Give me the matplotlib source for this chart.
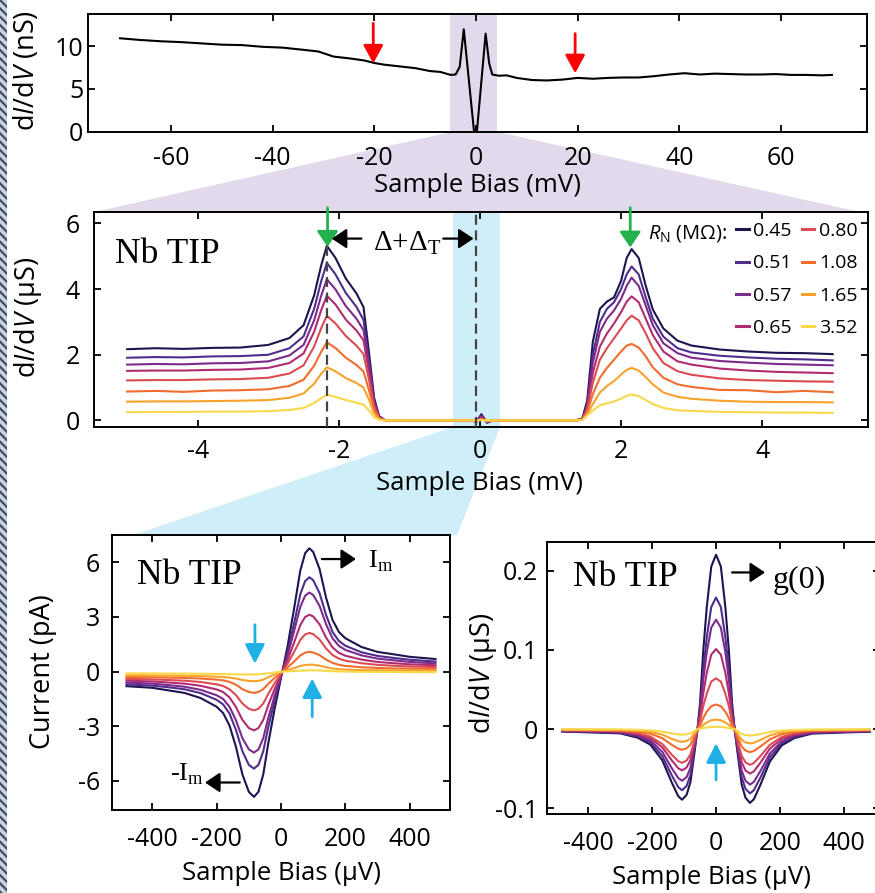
import matplotlib
matplotlib.use("Agg")
import matplotlib.pyplot as plt
from matplotlib.patches import Polygon, Rectangle

plt.rcParams["font.family"] = ["Open Sans", "DejaVu Sans"]
plt.rcParams["mathtext.fontset"] = "custom"
plt.rcParams["mathtext.rm"] = "Liberation Serif"
plt.rcParams["mathtext.it"] = "Open Sans:italic"
plt.rcParams["mathtext.sf"] = "Open Sans"
plt.rcParams["axes.unicode_minus"] = False
plt.rcParams["hatch.linewidth"] = 1.6

W, H = 875, 893

# ---------------- data ----------------
# top panel: wide-range dI/dV (nS) vs bias (mV)
wide_bias = [-70, -66, -62, -58, -54, -50, -46, -42, -38, -34, -31, -28, -25, -22, -20, -18,
             -15, -12, -9, -7, -5, -4, -3.2, -2.4, -0.4, 0.2, 1.9, 2.6, 3.2, 4.5, 6, 8, 11,
             14, 17, 20, 23, 26, 29, 32, 35, 38, 41, 44, 47, 50, 53, 56, 59, 62, 65, 68, 70]
wide_didv = [10.95, 10.75, 10.6, 10.5, 10.35, 10.2, 10.15, 9.95, 9.85, 9.6, 9.4, 8.8, 8.6, 8.35,
             8.05, 7.85, 7.65, 7.45, 7.1, 7.0, 6.65, 6.7, 7.6, 12.0, 0.1, 0.1, 11.5, 8.0, 6.7,
             6.55, 6.6, 6.3, 6.05, 6.0, 6.1, 6.3, 6.2, 6.3, 6.35, 6.35, 6.5, 6.7, 6.85, 6.7,
             6.8, 6.75, 6.7, 6.7, 6.75, 6.65, 6.65, 6.6, 6.65]

rn_labels = ["0.45", "0.51", "0.57", "0.65", "0.80", "1.08", "1.65", "3.52"]
colors = ["#1e1450", "#4f2d8c", "#7c2a8c", "#b02c72", "#dc4b53", "#f16c2e", "#f8a22c", "#f9d84a"]

# middle panel: gap dI/dV (uS) vs bias (mV)
gap_bias = [-5.0, -4.6, -4.2, -3.8, -3.4, -3.0, -2.7, -2.5, -2.35, -2.25, -2.17, -2.05, -1.9,
            -1.75, -1.65, -1.57, -1.5, -1.43, -1.35, -0.7, -0.12, -0.05, 0.02, 0.1, 0.18, 0.7,
            1.35, 1.45, 1.52, 1.6, 1.7, 1.8, 1.9, 2.0, 2.08, 2.15, 2.25, 2.35, 2.45, 2.6, 2.8,
            3.0, 3.4, 3.8, 4.2, 4.6, 5.0]
gap_didv = [
    [2.17, 2.20, 2.18, 2.21, 2.22, 2.30, 2.51, 2.90, 3.81, 4.72, 5.32, 4.96, 4.32, 3.87, 3.45, 2.02, 0.69, 0.13, 0.01,
     0, 0, -0.05, 0.19, -0.07, 0, 0,
     0.0, 0.05, 0.6, 2.4, 3.4, 3.62, 3.75, 4.25, 4.95, 5.22, 4.95, 4.1, 3.38, 2.8, 2.43, 2.28, 2.16, 2.1, 2.06, 2.05, 2.02],
    [1.91, 1.93, 1.92, 1.95, 1.96, 2.0, 2.2, 2.56, 3.4, 4.24, 4.8, 4.46, 3.88, 3.46, 3.06, 1.82, 0.62, 0.12, 0.01,
     0, 0, -0.04, 0.15, -0.06, 0, 0,
     0.0, 0.04, 0.5, 2.0, 3.0, 3.4, 3.6, 4.0, 4.45, 4.69, 4.45, 3.75, 3.1, 2.55, 2.2, 2.07, 1.97, 1.92, 1.88, 1.86, 1.83],
    [1.70, 1.72, 1.71, 1.74, 1.75, 1.80, 1.98, 2.30, 3.05, 3.80, 4.30, 4.0, 3.48, 3.10, 2.75, 1.63, 0.56, 0.11, 0.01,
     0, 0, -0.03, 0.12, -0.05, 0, 0,
     0.0, 0.04, 0.45, 1.75, 2.7, 3.1, 3.35, 3.7, 4.1, 4.35, 4.1, 3.5, 2.9, 2.35, 2.05, 1.91, 1.81, 1.76, 1.72, 1.7, 1.68],
    [1.51, 1.52, 1.52, 1.54, 1.55, 1.60, 1.75, 2.04, 2.70, 3.36, 3.80, 3.54, 3.07, 2.74, 2.44, 1.44, 0.49, 0.10, 0.01,
     0, 0, -0.03, 0.09, -0.04, 0, 0,
     0.0, 0.03, 0.38, 1.45, 2.25, 2.65, 2.95, 3.3, 3.62, 3.78, 3.6, 3.1, 2.6, 2.1, 1.8, 1.70, 1.58, 1.52, 1.48, 1.46, 1.44],
    [1.22, 1.23, 1.23, 1.25, 1.26, 1.30, 1.43, 1.68, 2.25, 2.81, 3.19, 2.96, 2.57, 2.28, 2.02, 1.21, 0.41, 0.08, 0.0,
     0, 0, -0.02, 0.06, -0.03, 0, 0,
     0.0, 0.03, 0.32, 1.15, 1.85, 2.2, 2.5, 2.8, 3.05, 3.19, 3.05, 2.65, 2.2, 1.75, 1.5, 1.39, 1.28, 1.23, 1.21, 1.19, 1.18],
    [0.88, 0.90, 0.87, 0.91, 0.92, 0.95, 1.05, 1.24, 1.67, 2.09, 2.38, 2.21, 1.91, 1.69, 1.49, 0.90, 0.31, 0.06, 0.0,
     0, 0, -0.01, 0.04, -0.02, 0, 0,
     0.0, 0.02, 0.25, 0.8, 1.3, 1.6, 1.85, 2.1, 2.28, 2.33, 2.22, 1.95, 1.62, 1.3, 1.1, 1.02, 0.93, 0.92, 0.86, 0.9, 0.86],
    [0.57, 0.58, 0.58, 0.59, 0.60, 0.62, 0.69, 0.82, 1.12, 1.42, 1.62, 1.50, 1.29, 1.14, 1.0, 0.62, 0.21, 0.04, 0.0,
     0, 0, -0.01, 0.02, -0.01, 0, 0,
     0.0, 0.02, 0.18, 0.5, 0.85, 1.05, 1.2, 1.4, 1.54, 1.6, 1.52, 1.32, 1.1, 0.85, 0.72, 0.66, 0.6, 0.57, 0.56, 0.56, 0.55],
    [0.25, 0.26, 0.26, 0.27, 0.27, 0.28, 0.32, 0.38, 0.53, 0.68, 0.78, 0.72, 0.62, 0.54, 0.48, 0.30, 0.10, 0.02, 0.0,
     0, 0, 0, 0.01, 0, 0, 0,
     0.0, 0.01, 0.15, 0.3, 0.46, 0.52, 0.58, 0.66, 0.75, 0.79, 0.74, 0.62, 0.5, 0.38, 0.31, 0.29, 0.26, 0.25, 0.24, 0.24, 0.23],
]

# bottom-left: current (pA) vs bias (uV)
iv_bias = [-480, -400, -350, -300, -250, -200, -180, -160, -140, -120, -100, -84, -70, -55, -40, -20, 0,
           20, 40, 60, 75, 88, 100, 120, 140, 160, 180, 200, 250, 300, 350, 400, 480]
iv_current = [
    [-0.80, -0.89, -1.03, -1.17, -1.45, -1.93, -2.27, -2.96, -4.13, -5.64, -6.6, -6.88, -6.6, -5.64, -3.99, -2.06, -0.34,
     1.35, 3.39, 5.55, 6.5, 6.77, 6.57, 5.62, 4.06, 2.84, 2.17, 1.83, 1.35, 1.08, 0.95, 0.81, 0.69],
    [-0.70, -0.77, -0.86, -0.97, -1.18, -1.55, -1.8, -2.3, -3.2, -4.37, -5.12, -5.33, -5.12, -4.37, -3.09, -1.6, -0.27,
     1.04, 2.59, 4.25, 4.97, 5.18, 5.02, 4.3, 3.11, 2.18, 1.68, 1.42, 1.06, 0.86, 0.75, 0.65, 0.55],
    [-0.60, -0.66, -0.74, -0.83, -1.0, -1.3, -1.5, -1.93, -2.67, -3.65, -4.27, -4.45, -4.27, -3.65, -2.58, -1.34, -0.22,
     0.87, 2.17, 3.56, 4.17, 4.34, 4.21, 3.6, 2.6, 1.83, 1.41, 1.19, 0.89, 0.71, 0.62, 0.53, 0.45],
    [-0.50, -0.54, -0.6, -0.66, -0.78, -0.98, -1.12, -1.42, -1.94, -2.65, -3.1, -3.23, -3.1, -2.65, -1.87, -0.97, -0.16,
     0.62, 1.56, 2.56, 3.0, 3.12, 3.03, 2.59, 1.87, 1.33, 1.03, 0.87, 0.66, 0.53, 0.46, 0.4, 0.35],
    [-0.40, -0.43, -0.46, -0.5, -0.57, -0.7, -0.79, -0.97, -1.29, -1.75, -2.04, -2.13, -2.04, -1.75, -1.24, -0.64, -0.11,
     0.42, 1.06, 1.74, 2.04, 2.12, 2.06, 1.76, 1.27, 0.91, 0.71, 0.6, 0.46, 0.37, 0.32, 0.28, 0.25],
    [-0.30, -0.31, -0.33, -0.35, -0.38, -0.44, -0.48, -0.56, -0.72, -0.96, -1.12, -1.17, -1.12, -0.96, -0.68, -0.35, -0.06,
     0.22, 0.54, 0.89, 1.04, 1.08, 1.05, 0.9, 0.66, 0.48, 0.37, 0.31, 0.24, 0.2, 0.17, 0.16, 0.15],
    [-0.20, -0.21, -0.22, -0.23, -0.25, -0.28, -0.3, -0.33, -0.38, -0.46, -0.51, -0.53, -0.51, -0.44, -0.31, -0.16, -0.03,
     0.08, 0.19, 0.31, 0.36, 0.38, 0.37, 0.32, 0.24, 0.17, 0.13, 0.11, 0.08, 0.07, 0.06, 0.05, 0.05],
    [-0.10, -0.10, -0.11, -0.11, -0.12, -0.13, -0.14, -0.14, -0.15, -0.16, -0.16, -0.16, -0.15, -0.13, -0.1, -0.05, -0.01,
     0.01, 0.03, 0.05, 0.06, 0.07, 0.07, 0.06, 0.04, 0.02, 0.01, 0.0, -0.01, -0.02, -0.02, -0.03, -0.03],
]

# bottom-right: dI/dV (uS) vs bias (uV)
zb_bias = [-480, -400, -300, -245, -205, -168, -138, -118, -106, -92, -80, -68, -58, -50, -40, -29, -15, 0,
           15, 29, 40, 50, 58, 68, 80, 92, 106, 118, 138, 168, 205, 245, 300, 400, 480]
zb_didv = [
    [-0.0031, -0.0040, -0.0053, -0.0107, -0.0196, -0.0392, -0.0676, -0.0846, -0.089, -0.0828, -0.0668, -0.0312, 0.0,
     0.033, 0.099, 0.154, 0.205, 0.22, 0.205, 0.154, 0.099, 0.033, 0.0,
     -0.0326, -0.0698, -0.0865, -0.093, -0.0884, -0.0707, -0.0409, -0.0205, -0.0112, -0.0056, -0.0042, -0.0033],
    [-0.0027, -0.0035, -0.0046, -0.0092, -0.0169, -0.0339, -0.0585, -0.0732, -0.077, -0.0716, -0.0578, -0.027, 0.0,
     0.025, 0.075, 0.116, 0.154, 0.166, 0.154, 0.116, 0.075, 0.025, 0.0,
     -0.0284, -0.0608, -0.0753, -0.081, -0.077, -0.0616, -0.0356, -0.0178, -0.0097, -0.0049, -0.0036, -0.0028],
    [-0.0023, -0.0029, -0.0039, -0.0078, -0.0143, -0.0286, -0.0494, -0.0618, -0.065, -0.0605, -0.0488, -0.0228, 0.0,
     0.021, 0.062, 0.097, 0.128, 0.138, 0.128, 0.097, 0.062, 0.021, 0.0,
     -0.0245, -0.0525, -0.0651, -0.070, -0.0665, -0.0532, -0.0308, -0.0154, -0.0084, -0.0042, -0.0032, -0.0025],
    [-0.0018, -0.0023, -0.0031, -0.0062, -0.0114, -0.0229, -0.0395, -0.0494, -0.052, -0.0484, -0.039, -0.0182, 0.0,
     0.015, 0.045, 0.071, 0.094, 0.101, 0.094, 0.071, 0.045, 0.015, 0.0,
     -0.0196, -0.042, -0.0521, -0.056, -0.0532, -0.0426, -0.0246, -0.0123, -0.0067, -0.0034, -0.0025, -0.002],
    [-0.0015, -0.0019, -0.0026, -0.0051, -0.0094, -0.0187, -0.0323, -0.0404, -0.0425, -0.0395, -0.0319, -0.0149, 0.0,
     0.0096, 0.029, 0.045, 0.060, 0.064, 0.060, 0.045, 0.029, 0.0096, 0.0,
     -0.0158, -0.0338, -0.0419, -0.045, -0.0428, -0.0342, -0.0198, -0.0099, -0.0054, -0.0027, -0.002, -0.0016],
    [-0.0009, -0.0012, -0.0016, -0.0031, -0.0057, -0.0114, -0.0198, -0.0247, -0.026, -0.0242, -0.0195, -0.0091, 0.0,
     0.0047, 0.014, 0.022, 0.029, 0.031, 0.029, 0.022, 0.014, 0.0047, 0.0,
     -0.0102, -0.0218, -0.027, -0.029, -0.0276, -0.022, -0.0128, -0.0064, -0.0035, -0.0017, -0.0013, -0.001],
    [-0.0006, -0.0007, -0.001, -0.0019, -0.0035, -0.007, -0.0122, -0.0152, -0.016, -0.0149, -0.012, -0.0056, 0.0,
     0.0018, 0.0054, 0.0084, 0.0112, 0.012, 0.0112, 0.0084, 0.0054, 0.0018, 0.0,
     -0.0063, -0.0135, -0.0167, -0.018, -0.0171, -0.0137, -0.0079, -0.004, -0.0022, -0.0011, -0.0008, -0.0006],
    [-0.0002, -0.0003, -0.0004, -0.0008, -0.0015, -0.0031, -0.0053, -0.0067, -0.007, -0.0065, -0.0053, -0.0025, 0.0,
     0.0005, 0.0014, 0.0021, 0.0028, 0.003, 0.0028, 0.0021, 0.0014, 0.0005, 0.0,
     -0.0028, -0.006, -0.0074, -0.008, -0.0076, -0.0061, -0.0035, -0.0018, -0.001, -0.0005, -0.0004, -0.0003],
]

zb_ticklabels = ["-0.1", "0", "0.1", "0.2"]


def box(l, t, r, b):
    # pixel box -> figure fraction rect
    return [l / W, 1 - b / H, (r - l) / W, (b - t) / H]


def fp(x, y):
    return (x / W, 1 - y / H)


def style(ax, xpad, ypad):
    ax.tick_params(direction="in", length=5, width=1.3, top=True, right=True,
                   labelsize=18, colors="black")
    ax.tick_params(axis="x", pad=xpad)
    ax.tick_params(axis="y", pad=ypad)
    for s in ax.spines.values():
        s.set_linewidth(1.4)


fig = plt.figure(figsize=(W / 100, H / 100), dpi=100)

# connector wedges and the hatched edge strip
fig.add_artist(Polygon([fp(451, 132), fp(498, 132), fp(860, 212), fp(94, 212)], closed=True,
                       transform=fig.transFigure, facecolor="#e3d9ed", edgecolor="none", zorder=-1))
fig.add_artist(Polygon([fp(453, 427), fp(500, 427), fp(457, 535), fp(133, 535)], closed=True,
                       transform=fig.transFigure, facecolor="#cfeef9", edgecolor="none", zorder=-1))
fig.add_artist(Rectangle((0, 0), 7 / W, 1, transform=fig.transFigure, facecolor="#c8d5dc",
                         edgecolor="#3d4f63", hatch="\\\\\\\\", lw=0, zorder=-1))

# ---------------- top panel ----------------
ax1 = fig.add_axes(box(88, 14, 867, 132))
ax1.axvspan(-5.1, 4.1, color="#e3d9ed", lw=0, zorder=0)
ax1.plot(wide_bias, wide_didv, color="black", lw=1.5, zorder=2)
ax1.set_xlim(-76.3, 76.9)
ax1.set_ylim(-0.05, 13.8)
ax1.set_xticks([-60, -40, -20, 0, 20, 40, 60])
ax1.set_yticks([0, 5, 10])
style(ax1, 10, 3.5)
red = dict(arrowstyle="-|>,head_length=0.55,head_width=0.3", color="#ff0000", lw=2,
           mutation_scale=20, shrinkA=0, shrinkB=0)
ax1.annotate("", xy=(-20.2, 8.0), xytext=(-20.2, 12.7), arrowprops=red)
ax1.annotate("", xy=(19.5, 6.85), xytext=(19.5, 11.5), arrowprops=red)
fig.text(*fp(477, 185), "Sample Bias (mV)", ha="center", va="center", fontsize=18.5)
fig.text(*fp(27, 71), "d$I$/d$V$ (nS)", ha="center", va="center", rotation=90, fontsize=19.5)

# ---------------- middle panel ----------------
ax2 = fig.add_axes(box(94, 212, 868, 427))
ax2.axvspan(-0.38, 0.28, color="#cfeef9", lw=0, zorder=0)
lines2 = []
for ys, c in zip(gap_didv, colors):
    ln, = ax2.plot(gap_bias, ys, color=c, lw=1.5, zorder=2)
    lines2.append(ln)
ax2.vlines(-2.17, -0.2, 5.3, colors="#444444", linestyles=(0, (4.5, 2.5)), lw=1.6, zorder=3)
ax2.axvline(-0.05, color="#444444", ls=(0, (4.5, 2.5)), lw=1.6, zorder=3)
ax2.set_xlim(-5.47, 5.5)
ax2.set_ylim(-0.2, 6.35)
ax2.set_xticks([-4, -2, 0, 2, 4])
ax2.set_yticks([0, 2, 4, 6])
style(ax2, 9, 10)
green = dict(arrowstyle="-|>,head_length=0.47,head_width=0.32", color="#22b14c", lw=2,
             mutation_scale=20, shrinkA=0, shrinkB=0)
ax2.annotate("", xy=(-2.16, 5.29), xytext=(-2.16, 6.48), arrowprops=green, annotation_clip=False)
ax2.annotate("", xy=(2.13, 5.27), xytext=(2.13, 6.48), arrowprops=green, annotation_clip=False)
blk = dict(arrowstyle="-|>,head_length=0.45,head_width=0.3", color="black", lw=1.6,
           mutation_scale=20, shrinkA=0, shrinkB=0)
ax2.annotate("", xy=(-2.10, 5.54), xytext=(-1.68, 5.54), arrowprops=blk)
ax2.annotate("", xy=(-0.09, 5.54), xytext=(-0.52, 5.54), arrowprops=blk)
fig.text(*fp(373, 250), "Δ+Δ$_{\\rm T}$", family=["Liberation Serif"], fontsize=21, va="baseline")
fig.text(*fp(115, 263), "Nb TIP", family=["Liberation Serif"], fontsize=25.5, va="baseline")
leg = ax2.legend(lines2, rn_labels, ncol=2, loc="upper left", bbox_to_anchor=fp(736, 222),
                 bbox_transform=fig.transFigure, frameon=False, fontsize=14, handlelength=0.65,
                 handletextpad=0.25, columnspacing=0.5, labelspacing=0.74, borderpad=0,
                 borderaxespad=0)
for ln in leg.get_lines():
    ln.set_linewidth(2.2)
fig.text(*fp(727, 238), "$R_{\\sf N}$ (MΩ):", ha="right", va="baseline", fontsize=14.5)
fig.text(*fp(480, 483), "Sample Bias (mV)", ha="center", va="center", fontsize=18.5)
fig.text(*fp(28, 317), "d$I$/d$V$ (µS)", ha="center", va="center", rotation=90, fontsize=19.5)

# ---------------- bottom-left panel ----------------
ax3 = fig.add_axes(box(112, 535, 450, 810))
for ys, c in zip(iv_current, colors):
    ax3.plot(iv_bias, ys, color=c, lw=1.5)
ax3.set_xlim(-525, 525)
ax3.set_ylim(-7.6, 7.5)
ax3.set_xticks([-400, -200, 0, 200, 400])
ax3.set_yticks([-6, -3, 0, 3, 6])
style(ax3, 12.5, 8.5)
cyan = dict(arrowstyle="-|>,head_length=0.58,head_width=0.3", color="#1fb0e6", lw=2,
            mutation_scale=20, shrinkA=0, shrinkB=0)
ax3.annotate("", xy=(-81, 0.44), xytext=(-81, 2.57), arrowprops=cyan)
ax3.annotate("", xy=(97, -0.38), xytext=(97, -2.48), arrowprops=cyan)
ax3.annotate("", xy=(233, 6.18), xytext=(127, 6.18), arrowprops=blk)
ax3.annotate("", xy=(-236, -6.09), xytext=(-128, -6.09), arrowprops=blk)
ax3.text(270, 5.68, "I$_{\\rm m}$", family=["Liberation Serif"], fontsize=19, va="baseline")
ax3.text(-238, -6.0, "-I$_{\\rm m}$", family=["Liberation Serif"], fontsize=19, va="baseline",
         ha="right")
fig.text(*fp(137, 584), "Nb TIP", family=["Liberation Serif"], fontsize=25.5, va="baseline")
fig.text(*fp(282, 873), "Sample Bias (µV)", ha="center", va="center", fontsize=18.5)
fig.text(*fp(43, 672), "Current (pA)", ha="center", va="center", rotation=90, fontsize=19.5)

# ---------------- bottom-right panel ----------------
ax4 = fig.add_axes(box(547, 542, 880, 814))
for ys, c in zip(zb_didv, colors):
    ax4.plot(zb_bias, ys, color=c, lw=1.5)
ax4.set_xlim(-528, 512)
ax4.set_ylim(-0.107, 0.236)
ax4.set_xticks([-400, -200, 0, 200, 400])
ax4.set_yticks([-0.1, 0, 0.1, 0.2])
ax4.set_yticklabels(zb_ticklabels)
style(ax4, 12.5, 6.5)
ax4.annotate("", xy=(0, -0.018), xytext=(0, -0.064), arrowprops=cyan)
ax4.annotate("", xy=(153, 0.1976), xytext=(50, 0.1976), arrowprops=blk)
fig.text(*fp(773, 588), "g(0)", family=["Liberation Serif"], fontsize=23, va="baseline")
fig.text(*fp(573, 586), "Nb TIP", family=["Liberation Serif"], fontsize=25.5, va="baseline")
fig.text(*fp(712, 877), "Sample Bias (µV)", ha="center", va="center", fontsize=18.5)
fig.text(*fp(483, 673), "d$I$/d$V$ (µS)", ha="center", va="center", rotation=90, fontsize=19.5)

fig.savefig("out.png", dpi=100)
